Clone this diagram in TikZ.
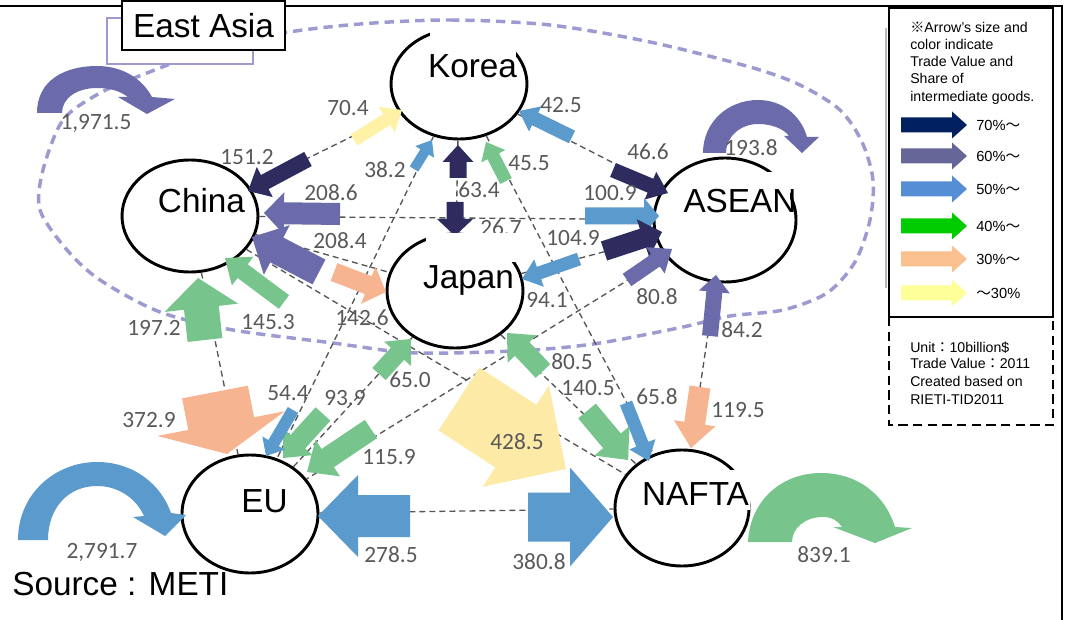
\documentclass[tikz,border=0pt]{standalone}
\usepackage{fontspec}
\setmainfont{Liberation Sans}
\newfontfamily\cjk{Noto Sans CJK JP}
\newfontfamily\numfont{Carlito}
\usetikzlibrary{calc,shapes.geometric}
\definecolor{navyA}{HTML}{2E2C5E}
\definecolor{purpleA}{HTML}{6B6AAA}
\definecolor{blueA}{HTML}{5A9ACD}
\definecolor{greenA}{HTML}{77C48D}
\definecolor{salmonA}{HTML}{F7B491}
\definecolor{yellowA}{HTML}{FFF1A6}
\definecolor{yellowB}{HTML}{FDEAA6}
\definecolor{lavA}{HTML}{9D99D1}
\definecolor{lineGray}{HTML}{555555}
\definecolor{numGray}{HTML}{595959}
\definecolor{legA}{HTML}{002060}
\definecolor{legB}{HTML}{666699}
\definecolor{legC}{HTML}{558ED5}
\definecolor{legD}{HTML}{00CC00}
\definecolor{legE}{HTML}{FAC090}
\definecolor{legF}{HTML}{FFFF99}
% block arrow: tail, tip, shaft width, head width, head length (px), colour
\newcommand\barrow[6]{%
  \path (#1) coordinate (bT) (#2) coordinate (bH);
  \path ($(bH)!0.75*#5pt!(bT)$) coordinate (bB);
  \fill[#6] ($(bT)!0.375*#3pt!90:(bH)$) -- ($(bB)!0.375*#3pt!90:(bH)$)
    -- ($(bB)!0.375*#4pt!90:(bH)$) -- (bH) -- ($(bB)!0.375*#4pt!-90:(bH)$)
    -- ($(bB)!0.375*#3pt!-90:(bH)$) -- ($(bT)!0.375*#3pt!-90:(bH)$) -- cycle;}
\begin{document}
\begin{tikzpicture}[x=0.75pt,y=-0.75pt,
  region/.style={ellipse, draw=black, line width=2.2pt, fill=white, inner sep=0pt},
  conn/.style={draw=lineGray, line width=1pt, dash pattern=on 4.5pt off 3pt},
  numl/.style={text=numGray, font=\numfont\fontsize{17.5pt}{17.5pt}\selectfont, inner sep=0pt},
  bigl/.style={font=\fontsize{25pt}{25pt}\selectfont, inner sep=0pt, anchor=base},
  legt/.style={font=\fontsize{10.6pt}{12pt}\selectfont, inner sep=0pt, anchor=base west},
  legp/.style={font=\fontsize{11pt}{11pt}\selectfont, inner sep=0pt, anchor=west}]
\useasboundingbox (0,0) rectangle (1067,620);
% frame
\draw[line width=1.5pt] (0,6) -- (1062,6) -- (1062,620);
% East Asia region
\draw[lavA, line width=2.6pt, dash pattern=on 7pt off 4.5pt] plot[smooth cycle, tension=0.5] coordinates {
 (360,24) (450,20) (550,25) (650,42) (750,67) (800,85) (840,110) (862,142) (873,180) (870,220)
 (855,262) (827,293) (783,310) (730,316) (683,327) (600,343) (533,350) (450,353) (400,352)
 (333,343) (233,330) (160,312) (100,280) (67,250) (40,210) (43,170) (63,120) (100,93)
 (147,73) (210,50) (283,33)};
\draw[lavA, line width=1.5pt, fill=white] (107,18) rectangle (253,64);
\node[draw, fill=white, line width=1.5pt, minimum width=122pt, minimum height=36.5pt, inner sep=0pt,
  font=\fontsize{25pt}{25pt}\selectfont] (eastasia) at (203.5,25.5) {East Asia};
% regions
\node[region, minimum width=102pt, minimum height=82.5pt] (korea) at (459,84) {};
\node[region, minimum width=102pt, minimum height=84pt] (china) at (190,216) {};
\node[region, minimum width=102pt, minimum height=85.5pt] (japan) at (455,291) {};
\node[region, minimum width=106.5pt, minimum height=93pt] (asean) at (725,220) {};
\node[region, minimum width=102pt, minimum height=88.5pt] (eu) at (250,514) {};
\node[region, minimum width=100.5pt, minimum height=87pt] (nafta) at (682,508) {};
% connectors
\foreach \a/\b in {korea/china, korea/japan, korea/asean, korea/eu, korea/nafta,
  china/japan, china/asean, china/eu, china/nafta, japan/asean, japan/eu, japan/nafta,
  asean/eu, asean/nafta, eu/nafta}
  \draw[conn] (\a) -- (\b);
% self loops
\fill[purpleA] (37,113) .. controls (37,80) and (65,66) .. (97,66) .. controls (124,66) and (143,80) .. (152,97)
  -- (175,99) -- (147,114) -- (118,97) -- (128,97) .. controls (120,91) and (110,88) .. (97,88)
  .. controls (77,88) and (62,98) .. (62,113) -- cycle;
\fill[purpleA] (703,153) .. controls (703,122) and (728,100) .. (758,100) .. controls (783,100) and (801,116) .. (807,137)
  -- (819,137) -- (802,153) -- (784,136) -- (789,136) .. controls (784,129) and (772,124) .. (758,124)
  .. controls (740,124) and (726,137) .. (726,153) -- cycle;
\fill[blueA] (18,540) .. controls (18,494) and (55,462) .. (97,462) .. controls (133,462) and (161,484) .. (171,513)
  -- (186,515) -- (165,536) -- (133,517) -- (144,516) .. controls (136,498) and (118,486) .. (97,486)
  .. controls (68,486) and (48,508) .. (48,540) -- cycle;
\fill[greenA] (748,542) .. controls (750,500) and (782,473) .. (821,473) .. controls (858,473) and (885,495) .. (895,527)
  -- (912,528) -- (875,543) -- (833,527) -- (842,527) .. controls (838,521) and (832,517) .. (823,517)
  .. controls (805,517) and (792,528) .. (792,542) -- cycle;
% straight arrows
\barrow{354,140}{402,110}{13}{30}{18}{yellowA}
\barrow{308,159}{248,191}{16}{34}{19}{navyA}
\barrow{340,214}{264,213}{22}{42}{20}{purpleA}
\barrow{319,272}{252,237}{28}{56}{28}{purpleA}
\barrow{205,340}{198,278}{35}{74}{30}{greenA}
\barrow{284,302}{225,258}{17}{36}{22}{greenA}
\barrow{334,272}{386,292}{19}{40}{19}{salmonA}
\barrow{458,178}{458,145}{17}{31}{17}{navyA}
\barrow{455,202}{455,236}{17}{36}{17}{navyA}
\barrow{414,169}{432,140}{10}{22}{14}{blueA}
\barrow{506,181}{486,142}{13}{27}{16}{greenA}
\barrow{572,137}{519,111}{14}{28}{18}{blueA}
\barrow{613,170}{668,193}{15}{30}{19}{navyA}
\barrow{585,216}{659,216}{17}{36}{15}{blueA}
\barrow{604,251}{662,232}{20}{40}{20}{navyA}
\barrow{579,259}{522,279}{13}{29}{18}{blueA}
\barrow{627,280}{672,249}{15}{32}{20}{purpleA}
\barrow{710,336}{716,275}{16}{31}{17}{purpleA}
\barrow{700,387}{691,448}{21}{42}{25}{salmonA}
\barrow{626,403}{649,461}{13}{28}{18}{blueA}
\barrow{587,411}{628,460}{23}{46}{25}{greenA}
\barrow{543,371}{507,333}{20}{40}{22}{greenA}
\barrow{379,374}{411,339}{18}{36}{20}{greenA}
\barrow{323,414}{283,458}{20}{40}{22}{greenA}
\barrow{371,429}{307,472}{22}{44}{25}{greenA}
\barrow{293,410}{266,456}{12}{26}{15}{blueA}
\barrow{215,392}{227,454}{67}{130}{31}{salmonA}
\barrow{459,399}{566,469}{75}{121}{60}{yellowB}
\barrow{410,516}{318,516}{42}{82}{40}{blueA}
\barrow{528,517}{613,517}{49}{99}{43}{blueA}
% values
\node[numl] (v1) at (96,123) {1,971.5};
\node[numl] (v2) at (348,108) {70.4};
\node[numl] (v3) at (247,157) {151.2};
\node[numl] (v4) at (385,170) {38.2};
\node[numl] (v5) at (529,163) {45.5};
\node[numl] (v6) at (561,105) {42.5};
\node[numl] (v7) at (648,152) {46.6};
\node[numl] (v8) at (751,148) {193.8};
\node[numl] (v9) at (331,193) {208.6};
\node[numl] (v10) at (479,190) {63.4};
\node[numl] (v11) at (501,228) {26.7};
\node[numl] (v12) at (610,193) {100.9};
\node[numl] (v13) at (573,238) {104.9};
\node[numl] (v14) at (340,241) {208.4};
\node[numl] (v15) at (547,300) {94.1};
\node[numl] (v16) at (657,297) {80.8};
\node[numl] (v17) at (154,328) {197.2};
\node[numl] (v18) at (268,322) {145.3};
\node[numl] (v19) at (362,318) {142.6};
\node[numl] (v20) at (742,330) {84.2};
\node[numl] (v21) at (288,393) {54.4};
\node[numl] (v22) at (345,398) {93.9};
\node[numl] (v23) at (410,380) {65.0};
\node[numl] (v24) at (572,362) {80.5};
\node[numl] (v25) at (588,388) {140.5};
\node[numl] (v26) at (657,397) {65.8};
\node[numl] (v27) at (738,410) {119.5};
\node[numl] (v28) at (149,420) {372.9};
\node[numl] (v29) at (517,442) {428.5};
\node[numl] (v30) at (389,457) {115.9};
\node[numl] (v31) at (102,552) {2,791.7};
\node[numl] (v32) at (391,555) {278.5};
\node[numl] (v33) at (539,562) {380.8};
\node[numl] (v34) at (824,555) {839.1};
% white text backgrounds
\fill[white] (430,26) rectangle (516,86);
\fill[white] (426,233) rectangle (522,262);
\fill[white] (683,172) rectangle (790,217);
\fill[white] (652,470) rectangle (750,510);
% region names
\node[bigl] (koreaT) at (472.5,78) {Korea};
\node[bigl] (chinaT) at (201.5,213) {China};
\node[bigl] (japanT) at (468.5,288) {Japan};
\node[bigl] (aseanT) at (740,213) {ASEAN};
\node[bigl] (euT) at (264.5,512) {EU};
\node[bigl] (naftaT) at (695.5,505) {NAFTA};
\node[bigl, anchor=base west] (src) at (12,595) {Source : METI};
% legend
\draw[gray!55, line width=1.1pt] (886,28) -- (886,288);
\draw[line width=1.5pt, dash pattern=on 7pt off 4pt] (889,317) rectangle (1053,425);
\draw[line width=2pt, fill=white] (889,8) rectangle (1053,317);
\node[legt] (leg1) at (910,33) {{\cjk ※}Arrow's size and};
\node[legt] (leg2) at (910,50) {color indicate};
\node[legt] (leg3) at (910,67) {Trade Value and};
\node[legt] (leg4) at (910,84) {Share of};
\node[legt] (leg5) at (910,102) {intermediate goods.};
\barrow{901,125}{967,125}{15}{27}{15}{legA}
\barrow{901,156}{967,156}{15}{27}{15}{legB}
\barrow{901,189}{967,189}{15}{27}{15}{legC}
\barrow{901,226}{967,226}{15}{27}{15}{legD}
\barrow{901,259}{967,259}{15}{27}{15}{legE}
\barrow{901,293}{967,293}{15}{27}{15}{legF}
\node[legp] (p1) at (976,125) {70\%{\cjk ～}};
\node[legp] (p2) at (976,156) {60\%{\cjk ～}};
\node[legp] (p3) at (976,189) {50\%{\cjk ～}};
\node[legp] (p4) at (976,226) {40\%{\cjk ～}};
\node[legp] (p5) at (976,259) {30\%{\cjk ～}};
\node[legp] (p6) at (976,293) {{\cjk ～}30\%};
\node[legt] (u1) at (910,352) {Unit{\cjk ：}10billion\$};
\node[legt] (u2) at (910,368) {Trade Value{\cjk ：}2011};
\node[legt] (u3) at (910,386) {Created based on};
\node[legt] (u4) at (910,404) {RIETI-TID2011};
\end{tikzpicture}
\end{document}
